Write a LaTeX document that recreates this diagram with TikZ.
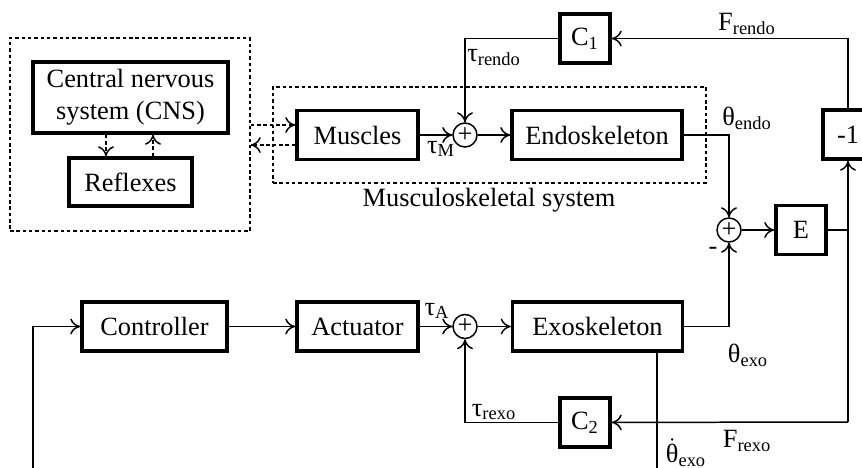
\documentclass[tikz,border=0pt]{standalone}
\usepackage{fontspec}
\setmainfont{Liberation Serif}
\usetikzlibrary{arrows.meta}
\newcommand*{\subb}[1]{\textsubscript{#1}}
\newcommand*{\dotth}{$\dot{\hbox{θ}}$}

\begin{document}
\begin{tikzpicture}[
  font=\fontsize{15}{18}\selectfont,
  line width=0.85pt,
  >={To[length=2mm,width=3.2mm]},
  block/.style={draw, line width=2pt, inner sep=0pt, minimum height=0.98cm},
  sumnode/.style={draw, circle, line width=0.85pt, inner sep=0pt, minimum size=0.48cm, font=\fontsize{15}{15}\selectfont},
  dotbox/.style={draw, dotline, inner sep=0pt},
  dotline/.style={line width=0.85pt, dash pattern=on 2pt off 1.6pt},
]
 \useasboundingbox (0,0) rectangle (17.24,-9.36);

 \node[dotbox, minimum width=4.8cm, minimum height=3.86cm] (cnsreg) at (2.6,-2.69) {};
 \node[block, minimum width=3.9cm, minimum height=1.42cm, align=center] (cns) at (2.61,-1.95) {Central nervous\\system (CNS)};
 \node[block, minimum width=2.46cm, minimum height=0.96cm] (refl) at (2.61,-3.64) {Reflexes};
 \node[dotbox, minimum width=8.66cm, minimum height=1.92cm] (msreg) at (9.79,-2.7) {};
 \node (mslbl) at (9.78,-4.0) {Musculoskeletal system};
 \node[block, minimum width=2.42cm] (mus) at (7.15,-2.7) {Muscles};
 \node[sumnode] (s1) at (9.3,-2.7) {+};
 \node[block, minimum width=3.4cm] (endo) at (11.94,-2.7) {Endoskeleton};
 \node[block, minimum width=1cm] (c1) at (11.7,-0.77) {C\subb{1}};
 \node[block, minimum width=1cm] (neg) at (16.96,-2.69) {-1};
 \node[sumnode] (s2) at (14.58,-4.6) {+};
 \node[block, minimum width=1cm] (e) at (16.02,-4.6) {E};
 \node[block, minimum width=2.9cm] (ctrl) at (3.09,-6.53) {Controller};
 \node[block, minimum width=2.42cm] (act) at (7.15,-6.53) {Actuator};
 \node[sumnode] (s3) at (9.3,-6.53) {+};
 \node[block, minimum width=3.4cm] (exo) at (11.95,-6.53) {Exoskeleton};
 \node[block, minimum width=1cm] (c2) at (11.7,-8.45) {C\subb{2}};

 \coordinate (fr) at (16.96,-8.44);
 \coordinate (td) at (13.14,-9.36);
 \coordinate (lb) at (0.66,-9.36);
 \coordinate (ma) at ([yshift=2mm]mus.west);
 \coordinate (mb) at ([yshift=-2mm]mus.west);

 \draw[dotline,->] ([xshift=-4.9mm]cns.south) -- ([xshift=-4.9mm]refl.north);
 \draw[dotline,->] ([xshift=4.5mm]refl.north) -- ([xshift=4.5mm]cns.south);
 \draw[dotline,->] (ma -| cnsreg.east) -- (ma);
 \draw[dotline,->] (mb) -- (mb -| cnsreg.east);

 \draw[->] (mus) -- (s1);
 \draw[->] (s1) -- (endo);
 \draw[->] (c1) -| (s1);
 \draw[->] (endo) -| (s2);
 \draw[->] (exo) -| (s2);
 \draw[->] (s2) -- (e);
 \draw (e) -- (e -| neg);
 \draw[->] (fr) -- (neg);
 \draw[->] (neg) |- (c1);
 \draw[->] (fr) -- (c2);
 \draw[->] (c2) -| (s3);
 \draw[->] (ctrl) -- (act);
 \draw[->] (act) -- (s3);
 \draw[->] (s3) -- (exo);
 \draw (td |- exo.south) -- (td);
 \fill (td |- c2) circle (0.9pt);
 \draw[->] (lb) |- (ctrl);

 \node (lfre) at (14.94,-0.48) {F\subb{rendo}};
 \node (ltre) at (9.88,-1.15) {τ\subb{rendo}};
 \node (ltm) at (8.82,-2.98) {τ\subb{M}};
 \node (lthe) at (14.94,-2.36) {θ\subb{endo}};
 \node (lmin) at (14.26,-5.02) {-};
 \node (lta) at (8.74,-6.22) {τ\subb{A}};
 \node (lthx) at (14.96,-7.1) {θ\subb{exo}};
 \node (ltrx) at (9.88,-8.24) {τ\subb{rexo}};
 \node (lfrx) at (14.94,-8.82) {F\subb{rexo}};
 \node (ltdx) at (13.72,-9.05) {\dotth\subb{exo}};
\end{tikzpicture}
\end{document}
